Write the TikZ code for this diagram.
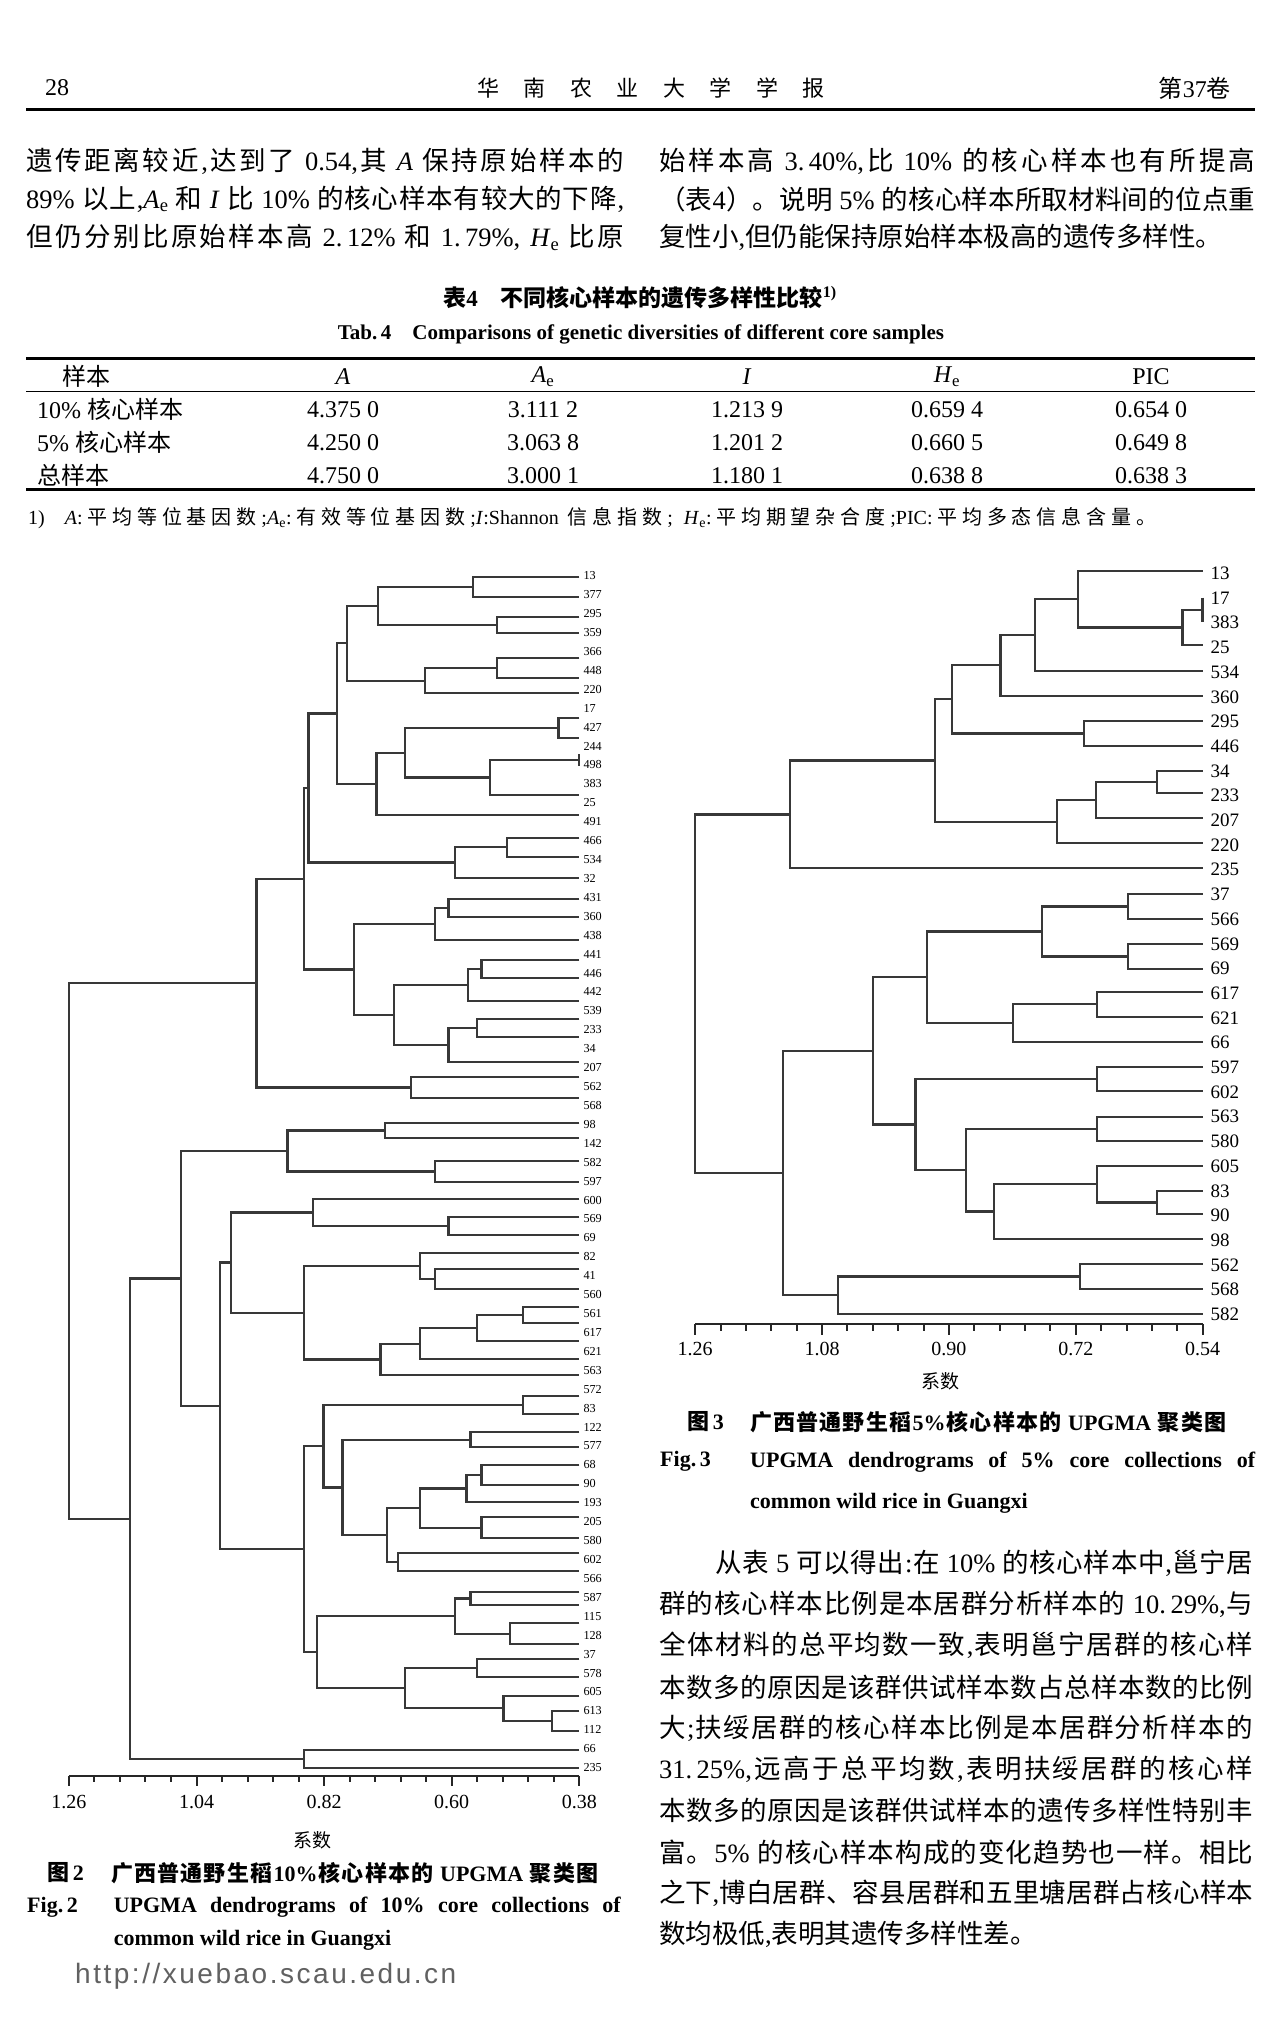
\documentclass[tikz,border=0pt]{standalone}
\usepackage{fontspec}
\setmainfont{Liberation Serif}
\newfontfamily\cjk{Noto Sans CJK SC}
\newfontfamily\urlf[LetterSpace=9]{Liberation Sans}
\usetikzlibrary{calc}

\makeatletter
\def\setcls#1#2{\count@=#1\relax
  \loop\ifnum\count@<#2\relax
    \XeTeXcharclass\count@=9
    \advance\count@\@ne
  \repeat}
\setcls{"3000}{"3040}
\setcls{"4E00}{"A000}
\setcls{"FF00}{"FFF0}
\makeatother
\def\cjkglue{\hskip 0pt plus 3pt\relax}
\XeTeXinterchartokenstate=1
\XeTeXinterchartoks 0 9 = {\cjkglue\cjk}
\XeTeXinterchartoks 4095 9 = {\cjk}
\XeTeXinterchartoks 9 0 = {\rmfamily\cjkglue}
\XeTeXinterchartoks 9 4095 = {\rmfamily}
\XeTeXinterchartoks 9 9 = {\cjkglue}

\newcommand\fs[1]{\fontsize{#1}{#1}\selectfont}
\newcommand\jn[4]{%
  \coordinate (#1) at ($(#3)!.5!(#4)$);
  \coordinate (#1) at (#1 -| #2,0);
  \draw[br] (#3) -- (#3 -| #1) -- (#4 -| #1) -- (#4);}

\begin{document}
\begin{tikzpicture}[x=1pt,y=-1pt,
  br/.style={line width=2.3pt,draw=black!78},
  ax/.style={line width=2pt,draw=black!85},
  lf/.style={font=\fs{12.2},anchor=west,inner sep=0pt},
  rf/.style={font=\fs{19},anchor=west,inner sep=0pt},
  tk/.style={font=\fs{20},inner sep=0pt},
  txt/.style={font=\fs{26.5},anchor=west,inner sep=0pt},
  tab/.style={font=\fs{24},inner sep=0pt},
  capt/.style={font=\bfseries\fs{22},anchor=west,inner sep=0pt},
  rule/.style={line width=#1,draw=black}]

\fill[white] (0,0) rectangle (1280,2026);
\useasboundingbox (0,0) rectangle (1280,2026);

% running head
\node[font=\fs{24},inner sep=0pt] (pg) at (57,88) {28};
\node[font=\fs{22},inner sep=0pt] (jname) at (651,88) {\hbox to 347pt{华南农业大学学报}};
\node[font=\fs{24},anchor=east,inner sep=0pt] (vol) at (1231,88) {第37卷};
\draw[rule=3pt] (26,109.5) -- (1255,109.5);

\node[txt] (ta1) at (26,161) {\hbox to 598pt{遗传距离较近,达到了 0.54,其 \textit{A} 保持原始样本的}};
\node[txt] (ta2) at (26,199) {\hbox to 598pt{89\% 以上,\textit{A}\textsubscript{e} 和 \textit{I} 比 10\% 的核心样本有较大的下降,}};
\node[txt] (ta3) at (26,237.5) {\hbox to 598pt{但仍分别比原始样本高 2.\,12\% 和 1.\,79\%, \textit{H}\textsubscript{e} 比原}};
\node[txt] (tb1) at (659,161) {\hbox to 596pt{始样本高 3.\,40\%,比 10\% 的核心样本也有所提高}};
\node[txt] (tb2) at (659,199) {\hbox to 596pt{（表4）。说明 5\% 的核心样本所取材料间的位点重}};
\node[txt] (tb3) at (659,237.5) {复性小,但仍能保持原始样本极高的遗传多样性。};

% table 4
\node[font=\bfseries\fs{23},inner sep=0pt] (tt) at (640,298) {表4\quad 不同核心样本的遗传多样性比较\textsuperscript{1)}};
\node[font=\bfseries\fs{21},inner sep=0pt] (te) at (641,334) {Tab.\,4\quad Comparisons of genetic diversities of different core samples};
\draw[rule=3pt] (26,358.5) -- (1255,358.5);
\draw[rule=1.3pt] (26,391.5) -- (1255,391.5);
\draw[rule=3pt] (26,489.5) -- (1255,489.5);
\node[tab] (h0) at (86,376.5) {样本};
\node[tab] (h1) at (343,376.5) {\textit{A}};
\node[tab] (h2) at (543,376.5) {\textit{A}\textsubscript{e}};
\node[tab] (h3) at (747,376.5) {\textit{I}};
\node[tab] (h4) at (947,376.5) {\textit{H}\textsubscript{e}};
\node[tab] (h5) at (1151,376.5) {PIC};
\foreach \lab/\va/\vb/\vc/\vd/\ve [count=\i] in {%
  10\% 核心样本/4.375 0/3.111 2/1.213 9/0.659 4/0.654 0,
  5\% 核心样本/4.250 0/3.063 8/1.201 2/0.660 5/0.649 8,
  总样本/4.750 0/3.000 1/1.180 1/0.638 8/0.638 3}{
  \pgfmathsetmacro\yy{376.5+33*\i}
  \node[tab,anchor=west] (s\i) at (37,\yy) {\lab};
  \node[tab] (s\i a) at (343,\yy) {\va};
  \node[tab] (s\i b) at (543,\yy) {\vb};
  \node[tab] (s\i c) at (747,\yy) {\vc};
  \node[tab] (s\i d) at (947,\yy) {\vd};
  \node[tab] (s\i e) at (1151,\yy) {\ve};
}
\node[font=\fs{20},anchor=west,inner sep=0pt] (fn) at (28,518) {\hbox to 1128pt{1)\quad\textit{A}:平均等位基因数;\textit{A}\textsubscript{e}:有效等位基因数;\textit{I}:Shannon 信息指数; \textit{H}\textsubscript{e}:平均期望杂合度;PIC:平均多态信息含量。}};

% fig 2, 10% core
\foreach \y [count=\i] in {576.7,596.7,616.7,632.7,657.7,678.3,693.3,718.3,737.7,754.3,765.7,795,815,837.7,856.7,877.7,899,917.3,940,960,977.7,1001,1019,1036.7,1061.7,1077.3,1097.7,1122.7,1138.3,1161,1181.7,1199.3,1216.7,1235,1252.7,1269,1289.3,1307.3,1323.3,1341,1359.3,1375,1395.7,1414,1432.3,1447.3,1465,1485,1501.7,1517.3,1538.3,1553.3,1571,1591.7,1605,1623.3,1644,1659.3,1676.7,1695.7,1710.7,1730.7,1750,1768}
  \coordinate (l\i) at (579.3,\y);
\foreach \lb [count=\i] in {13,377,295,359,366,448,220,17,427,244,498,383,25,491,466,534,32,431,360,438,441,446,442,539,233,34,207,562,568,98,142,582,597,600,569,69,82,41,560,561,617,621,563,572,83,122,577,68,90,193,205,580,602,566,587,115,128,37,578,605,613,112,66,235}
  \node[lf] (p\i) at (583.3,{575.7+(\i-1)*18.92}) {\lb};

\jn{a1}{473.2}{l1}{l2}
\jn{a2}{497.1}{l3}{l4}
\jn{a3}{377.7}{a1}{a2}
\jn{a4}{497.1}{l5}{l6}
\jn{a5}{424.7}{a4}{l7}
\jn{a6}{347.1}{a3}{a5}
\jn{a7}{558.5}{l8}{l9}
\jn{a8}{579.3}{l10}{l11}
\jn{a9}{490.3}{a8}{l12}
\jn{a10}{405.0}{a7}{a9}
\jn{a11}{376.6}{a10}{l13}
\jn{a12}{336.8}{a6}{a11}
\jn{a13}{507.3}{l14}{l15}
\jn{a14}{455.0}{a13}{l16}
\jn{a15}{308.4}{a12}{a14}
\jn{b1}{448.6}{l17}{l18}
\jn{b2}{435.3}{b1}{l19}
\jn{b3}{481.6}{l20}{l21}
\jn{b4}{468.3}{b3}{l22}
\jn{b5}{477.0}{l23}{l24}
\jn{b6}{448.6}{b5}{l25}
\jn{b7}{393.7}{b4}{b6}
\jn{b8}{353.9}{b2}{b7}
\jn{b9}{303.9}{a15}{b8}
\jn{b10}{410.7}{l26}{l27}
\jn{b11}{256.5}{b9}{b10}
\jn{c1}{385.0}{l28}{l29}
\jn{c2}{435.3}{l30}{l31}
\jn{c3}{287.6}{c1}{c2}
\jn{c4}{448.6}{l33}{l34}
\jn{c5}{313.0}{l32}{c4}
\jn{c6}{435.3}{l36}{l37}
\jn{c7}{420.2}{l35}{c6}
\jn{c8}{523.2}{l38}{l39}
\jn{c9}{477.0}{c8}{l40}
\jn{c10}{420.2}{c9}{l41}
\jn{c11}{380.4}{c10}{l42}
\jn{c12}{303.9}{c7}{c11}
\jn{c13}{230.7}{c5}{c12}
\jn{d1}{523.2}{l43}{l44}
\jn{d2}{470.6}{l45}{l46}
\jn{d3}{481.6}{l47}{l48}
\jn{d4}{466.4}{d3}{l49}
\jn{d5}{481.6}{l50}{l51}
\jn{d6}{420.2}{d4}{d5}
\jn{d7}{398.2}{l52}{l53}
\jn{d8}{387.2}{d6}{d7}
\jn{d9}{342.5}{d2}{d8}
\jn{d10}{323.6}{d1}{d9}
\jn{d11}{470.6}{l54}{l55}
\jn{d12}{510.0}{l56}{l57}
\jn{d13}{455.0}{d11}{d12}
\jn{d14}{477.0}{l58}{l59}
\jn{d15}{551.7}{l61}{l62}
\jn{d16}{503.5}{l60}{d15}
\jn{d17}{405.0}{d14}{d16}
\jn{d18}{316.7}{d13}{d17}
\jn{d19}{303.9}{d10}{d18}
\jn{d20}{220.1}{c13}{d19}
\jn{e1}{180.7}{c3}{d20}
\jn{e2}{303.9}{l63}{l64}
\jn{e3}{130.3}{e1}{e2}
\jn{e4}{68.9}{b11}{e3}

\coordinate (ax0) at (68.9,1775.7);
\coordinate (ax1) at (579.3,1775.7);
\draw[ax] (ax0) -- (ax1);
\foreach \k in {0,...,20}
  \draw[ax] ($(ax0)!\k/20!(ax1)$) -- ++(0,{ifthenelse(mod(\k,5)==0,10,6)});
\foreach \v [count=\k from 0] in {1.26,1.04,0.82,0.60,0.38}
  \node[tk] (lt\k) at ($(ax0)!\k/4!(ax1)+(0,26)$) {\v};
\node[font=\fs{19},inner sep=0pt] (xs1) at (312,1840) {系数};

\node[capt] (f2a) at (47,1873) {图\,2};
\node[capt] (f2b) at (111,1873) {\hbox to 487pt{广西普通野生稻10\%核心样本的 UPGMA 聚类图}};
\node[capt] (f2c) at (27,1907) {Fig.\,2};
\node[capt] (f2d) at (113.6,1907) {\hbox to 507pt{UPGMA dendrograms of 10\% core collections of}};
\node[capt] (f2e) at (113.6,1940.7) {common wild rice in Guangxi};
\node[font=\urlf\fs{28},text=black!62,anchor=west,inner sep=0pt] (url) at (75,1976) {http://xuebao.scau.edu.cn};

% fig 3, 5% core
\foreach \y [count=\i] in {570.7,597.7,621.7,645,670.7,695.7,720.7,746,770.7,793.3,818.3,843.3,868.3,894,919,944,969,991.7,1016.7,1041.7,1066.7,1090.7,1116.7,1141,1166,1191,1214,1239,1264,1289,1314}
  \coordinate (r\i) at (1202.6,\y);
\foreach \lb [count=\i] in {13,17,383,25,534,360,295,446,34,233,207,220,235,37,566,569,69,617,621,66,597,602,563,580,605,83,90,98,562,568,582}
  \node[rf] (q\i) at (1210.3,{573.3+(\i-1)*24.7}) {\lb};

\jn{s1}{1202.6}{r2}{r3}
\jn{s2}{1182.4}{s1}{r4}
\jn{s3}{1077.9}{r1}{s2}
\jn{s4}{1035.0}{s3}{r5}
\jn{s5}{1000.6}{s4}{r6}
\jn{s6}{1084.0}{r7}{r8}
\jn{s7}{952.0}{s5}{s6}
\jn{s8}{1156.7}{r9}{r10}
\jn{s9}{1096.3}{s8}{r11}
\jn{s10}{1056.9}{s9}{r12}
\jn{s11}{934.8}{s7}{s10}
\jn{s12}{790.1}{s11}{r13}
\jn{t1}{1127.7}{r14}{r15}
\jn{t2}{1127.7}{r16}{r17}
\jn{t3}{1041.9}{t1}{t2}
\jn{t4}{1097.0}{r18}{r19}
\jn{t5}{1012.8}{t4}{r20}
\jn{t6}{927.1}{t3}{t5}
\jn{t7}{1097.0}{r21}{r22}
\jn{t8}{1097.0}{r23}{r24}
\jn{t9}{1156.7}{r26}{r27}
\jn{t10}{1097.0}{r25}{t9}
\jn{t11}{994.1}{t10}{r28}
\jn{t12}{966.2}{t8}{t11}
\jn{t13}{915.6}{t7}{t12}
\jn{t14}{872.8}{t6}{t13}
\jn{t15}{1079.8}{r29}{r30}
\jn{t16}{838.0}{t15}{r31}
\jn{t17}{783.2}{t14}{t16}
\jn{t18}{695.2}{s12}{t17}

\coordinate (ax2) at (695.2,1324.3);
\coordinate (ax3) at (1202.6,1324.3);
\draw[ax] (ax2) -- (ax3);
\foreach \k in {0,...,20}
  \draw[ax] ($(ax2)!\k/20!(ax3)$) -- ++(0,{ifthenelse(mod(\k,5)==0,11,7)});
\foreach \v [count=\k from 0] in {1.26,1.08,0.90,0.72,0.54}
  \node[tk] (rt\k) at ($(ax2)!\k/4!(ax3)+(0,25)$) {\v};
\node[font=\fs{19},inner sep=0pt] (xs2) at (940,1381.7) {系数};

\node[capt] (f3a) at (687,1421.7) {图\,3};
\node[capt] (f3b) at (750,1421.7) {\hbox to 476pt{广西普通野生稻5\%核心样本的 UPGMA 聚类图}};
\node[capt] (f3c) at (660,1461.7) {Fig.\,3};
\node[capt] (f3d) at (750,1461.7) {\hbox to 505pt{UPGMA dendrograms of 5\% core collections of}};
\node[capt] (f3e) at (750,1503) {common wild rice in Guangxi};

% text under fig 3
\node[txt] (pa1) at (715,1563) {\hbox to 538pt{从表 5 可以得出:在 10\% 的核心样本中,邕宁居}};
\node[txt] (pa2) at (659,1604.3) {\hbox to 594pt{群的核心样本比例是本居群分析样本的 10.\,29\%,与}};
\node[txt] (pa3) at (659,1645.6) {\hbox to 594pt{全体材料的总平均数一致,表明邕宁居群的核心样}};
\node[txt] (pa4) at (659,1686.9) {\hbox to 594pt{本数多的原因是该群供试样本数占总样本数的比例}};
\node[txt] (pa5) at (659,1728.2) {\hbox to 594pt{大;扶绥居群的核心样本比例是本居群分析样本的}};
\node[txt] (pa6) at (659,1769.5) {\hbox to 594pt{31.\,25\%,远高于总平均数,表明扶绥居群的核心样}};
\node[txt] (pa7) at (659,1810.8) {\hbox to 594pt{本数多的原因是该群供试样本的遗传多样性特别丰}};
\node[txt] (pa8) at (659,1852.1) {\hbox to 594pt{富。5\% 的核心样本构成的变化趋势也一样。相比}};
\node[txt] (pa9) at (659,1893.4) {\hbox to 594pt{之下,博白居群、容县居群和五里塘居群占核心样本}};
\node[txt] (pa10) at (659,1934.7) {数均极低,表明其遗传多样性差。};
\end{tikzpicture}
\end{document}
